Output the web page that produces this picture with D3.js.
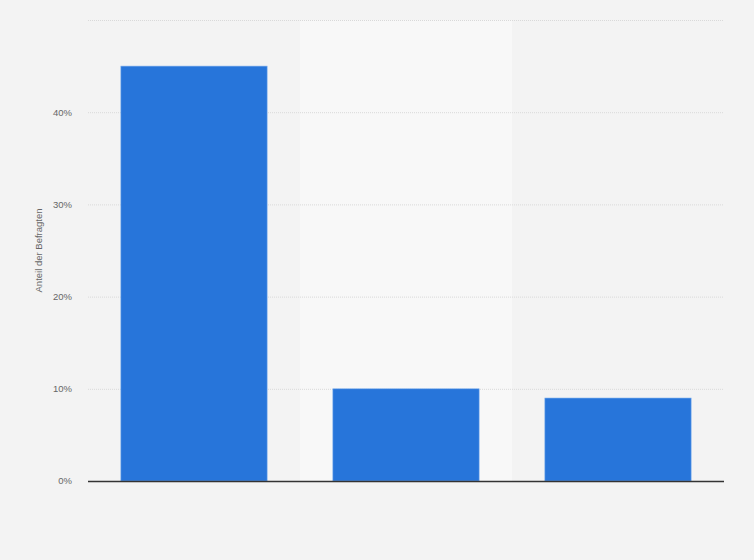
<!DOCTYPE html>
<html>
<head>
<meta charset="utf-8">
<script src="https://cdn.jsdelivr.net/npm/d3@7"></script>
<style>
  html, body { margin: 0; padding: 0; background: #f3f3f3; }
  svg { display: block; font-family: "Liberation Sans", Arial, sans-serif; }
</style>
</head>
<body>
<div id="chart"></div>
<script>
// category names are not shown in the picture
var categories = ["A", "B", "C"];
var shares = [45, 10, 9];
var yTicks = [0, 10, 20, 30, 40, 50];
var yTitle = "Anteil der Befragten";

var width = 754, height = 560;
var margin = {top: 20, right: 30, bottom: 79, left: 88};

var svg = d3.select("#chart").append("svg")
    .attr("width", width)
    .attr("height", height);

var x = d3.scaleBand()
    .domain(categories)
    .range([margin.left, width - margin.right])
    .paddingInner(0.31)
    .paddingOuter(0.155);

var band = d3.scaleBand()
    .domain(categories)
    .range([margin.left, width - margin.right]);

var y = d3.scaleLinear()
    .domain([0, 50])
    .range([height - margin.bottom, margin.top]);

// alternating column bands
svg.selectAll("rect.band")
    .data(categories)
    .enter().append("rect")
    .attr("class", "band")
    .attr("x", function (d) { return band(d); })
    .attr("y", margin.top)
    .attr("width", band.bandwidth())
    .attr("height", y(0) - margin.top)
    .style("fill", function (d, i) { return i % 2 == 1 ? "#f8f8f8" : "#f3f3f3"; });

// grid lines
svg.selectAll("line.grid")
    .data(yTicks.filter(function (t) { return t > 0; }))
    .enter().append("line")
    .attr("class", "grid")
    .attr("x1", margin.left)
    .attr("x2", width - margin.right)
    .attr("y1", function (d) { return y(d) + 0.5; })
    .attr("y2", function (d) { return y(d) + 0.5; })
    .style("stroke", "#d9d9d9")
    .style("stroke-width", 1)
    .style("stroke-dasharray", "1,1");

// y axis labels (50% line has no label)
svg.selectAll("text.tick")
    .data(yTicks.filter(function (t) { return t < 50; }))
    .enter().append("text")
    .attr("class", "tick")
    .attr("x", 72)
    .attr("y", function (d) { return y(d); })
    .attr("dy", "0.35em")
    .attr("text-anchor", "end")
    .style("font-size", "9.5px")
    .style("fill", "#666")
    .text(function (d) { return d + "%"; });

svg.append("text")
    .attr("transform", "translate(42," + ((y(0) + y(50)) / 2) + ") rotate(-90)")
    .attr("text-anchor", "middle")
    .style("font-size", "9.5px")
    .style("fill", "#666")
    .text(yTitle);

// bars
svg.selectAll("rect.bar")
    .data(shares)
    .enter().append("rect")
    .attr("class", "bar")
    .attr("x", function (d, i) { return x(categories[i]); })
    .attr("y", function (d) { return y(d); })
    .attr("width", x.bandwidth())
    .attr("height", function (d) { return y(0) - y(d); })
    .style("fill", "#2775da")
    .style("stroke", "#7fb0ee")
    .style("stroke-width", 0.6);

// baseline
svg.append("line")
    .attr("x1", margin.left)
    .attr("x2", width - margin.right)
    .attr("y1", y(0) + 0.5)
    .attr("y2", y(0) + 0.5)
    .style("stroke", "#333")
    .style("stroke-width", 1.3);
</script>
</body>
</html>
